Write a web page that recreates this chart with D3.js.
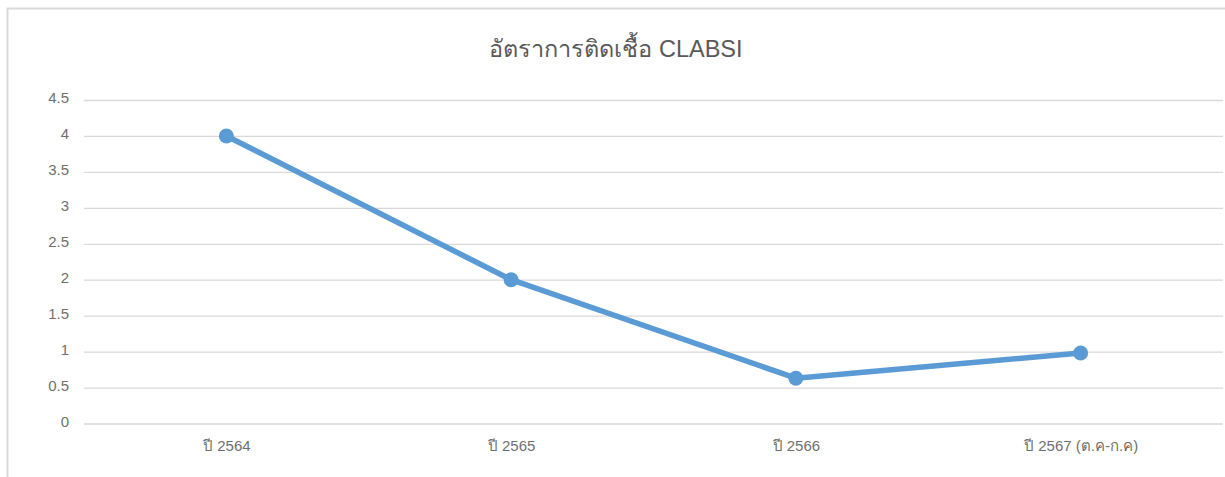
<!DOCTYPE html>
<html>
<head>
<meta charset="utf-8">
<script src="https://cdn.jsdelivr.net/npm/d3@7"></script>
<style>
    body { margin: 0; background: #fff; }
    svg { display: block; }
    .grid line { stroke: #d9d9d9; stroke-width: 1.3; }
    .grid path { display: none; }
    .axis text { fill: #6f6f6f; font-size: 15px; font-family: "Liberation Sans", Arial, sans-serif; }
    .axis path, .axis line { display: none; }
</style>
</head>
<body>
<svg id="chart-svg" width="1225" height="477"></svg>
<script>
// Chart data
const title = "อัตราการติดเชื้อ CLABSI";
const categories = ["ปี 2564", "ปี 2565", "ปี 2566", "ปี 2567 (ต.ค-ก.ค)"];
const rates = [4, 2, 0.63, 0.98];
const yTicks = [0, 0.5, 1, 1.5, 2, 2.5, 3, 3.5, 4, 4.5];

const svg = d3.select('#chart-svg');

// Frame of the chart area (top and left edges visible)
svg.append("path")
    .attr("d", "M7.5,477 L7.5,8.5 L1225,8.5")
    .attr("fill", "none")
    .attr("stroke", "#d9d9d9")
    .attr("stroke-width", 2);

const plot = {left: 84, right: 1223, top: 100, bottom: 423.5};

// Scales
const xScale = d3.scalePoint()
    .domain(categories)
    .range([plot.left, plot.right])
    .padding(0.5);

const yScale = d3.scaleLinear()
    .domain([0, 4.5])
    .range([plot.bottom, plot.top]);

// Title
svg.append("text")
    .attr("x", 616)
    .attr("y", 57)
    .attr("text-anchor", "middle")
    .attr("fill", "#595959")
    .style("font-size", "23.5px")
    .style("font-family", "\"Liberation Sans\", Arial, sans-serif")
    .text(title);

// Y gridlines
svg.append("g")
    .attr("class", "grid")
    .attr("transform", "translate(" + plot.left + ",0)")
    .call(d3.axisLeft(yScale)
        .tickValues(yTicks)
        .tickSize(-(plot.right - plot.left))
        .tickFormat("")
    );

// Y axis labels
svg.append("g")
    .attr("class", "axis")
    .attr("transform", "translate(" + (plot.left - 15) + ",-2)")
    .call(d3.axisLeft(yScale).tickValues(yTicks).tickSize(0).tickPadding(0).tickFormat(d3.format("")));

// X axis labels
svg.append("g")
    .attr("class", "axis")
    .attr("transform", "translate(0," + plot.bottom + ")")
    .call(d3.axisBottom(xScale).tickSize(0).tickPadding(17));

// The line
svg.append("path")
    .datum(rates)
    .attr("fill", "none")
    .attr("stroke", "#5b9bd5")
    .attr("stroke-width", 5.5)
    .attr("stroke-linejoin", "round")
    .attr("d", d3.line()
        .x((d, i) => xScale(categories[i]))
        .y(d => yScale(d))
    );

// Markers
svg.append("g")
    .selectAll("circle")
    .data(rates)
    .join("circle")
    .attr("cx", (d, i) => xScale(categories[i]))
    .attr("cy", d => yScale(d))
    .attr("r", 7.5)
    .attr("fill", "#5b9bd5");
</script>
</body>
</html>
